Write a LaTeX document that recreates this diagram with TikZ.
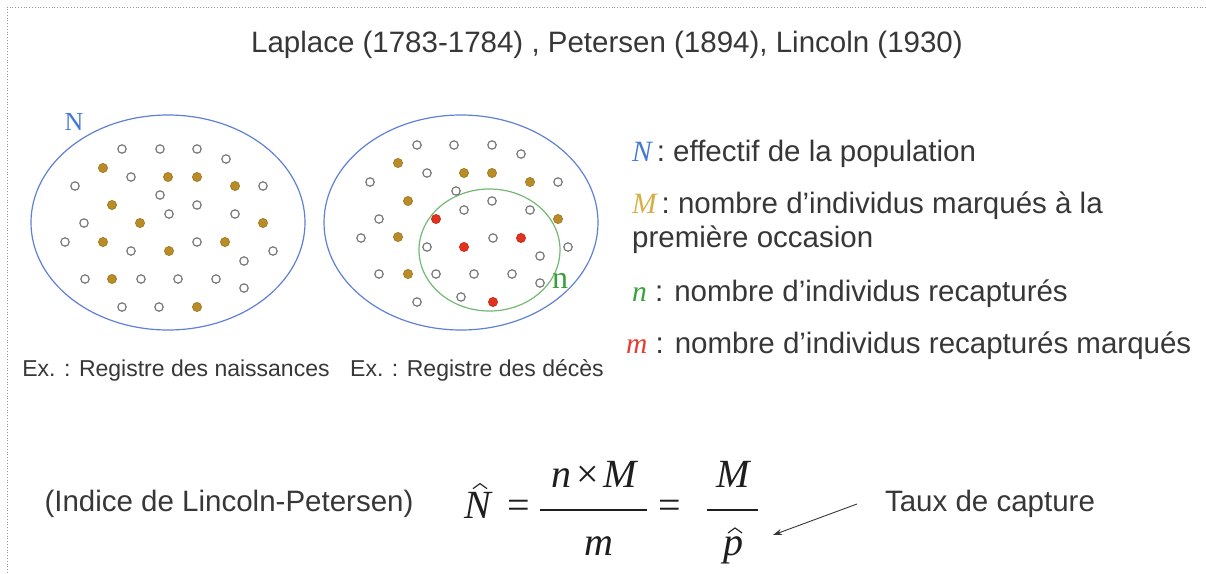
\documentclass[tikz,border=0pt]{standalone}
\usepackage{fontspec}
\setmainfont{Liberation Sans}
\newfontfamily\lserif{Liberation Serif}
\usetikzlibrary{arrows.meta,calc}
\definecolor{textgray}{RGB}{55,55,55}
\definecolor{popblue}{RGB}{95,128,215}
\definecolor{labblue}{RGB}{70,120,215}
\definecolor{recgreen}{RGB}{115,185,115}
\definecolor{labgreen}{RGB}{55,160,60}
\definecolor{goldfill}{RGB}{185,140,40}
\definecolor{redfill}{RGB}{225,50,30}
\definecolor{opengray}{RGB}{120,120,120}
\definecolor{leggold}{RGB}{215,175,70}
\definecolor{legred}{RGB}{230,60,50}
\definecolor{framegray}{RGB}{150,150,150}
\definecolor{mathblack}{RGB}{30,30,30}
\begin{document}
\begin{tikzpicture}[x=1pt,y=-1pt,
  txt/.style={font=\fontsize{29.5}{34}\selectfont, text=textgray, inner sep=0pt},
  smalltxt/.style={font=\fontsize{23}{27}\selectfont, text=textgray, inner sep=0pt},
  mth/.style={font=\lserif\fontsize{40}{44}\selectfont, text=mathblack, inner sep=0pt},
  popline/.style={draw=popblue, line width=1.2pt},
  recline/.style={draw=recgreen, line width=1.2pt},
  opendot/.style={draw=opengray, line width=1.2pt, fill=white},
  golddot/.style={draw=goldfill!85!black, line width=0.6pt, fill=goldfill},
  reddot/.style={draw=redfill!85!black, line width=0.6pt, fill=redfill},
  fracbar/.style={draw=mathblack, line width=1.3pt},
  hatline/.style={draw=mathblack, line width=1.1pt},
  framestyle/.style={draw=framegray, line width=0.8pt, dotted},
  pointer/.style={draw=textgray, line width=0.9pt, -{Stealth[length=9pt,width=6pt]}}
]
\useasboundingbox (0,0) rectangle (1206,573);
\draw[framestyle] (1206,7) -- (7,7) -- (7,573);

% title
\node[txt, anchor=base] (title) at (607,52) {Laplace (1783-1784) , Petersen (1894), Lincoln (1930)};

% population ellipses
\draw[popline] (168,222.5) ellipse [x radius=137pt, y radius=107.5pt];
\draw[popline] (461,222.5) ellipse [x radius=137pt, y radius=107.5pt];
\draw[recline] (489.5,250) ellipse [x radius=70.5pt, y radius=61pt];

\node[font=\lserif\fontsize{26}{28}\selectfont, text=labblue, inner sep=0pt] (Nlab) at (74,122) {N};
\node[font=\lserif\fontsize{32}{34}\selectfont, text=labgreen, inner sep=0pt] (nlab) at (560,281) {n};

% dots, first ellipse
\foreach \p in {(122,149),(160,149),(197,149),(226,159),(131,177),(75,186),(263,186),(160,195),(197,205),(169,214),(235,214),(84,223),(65,242),(131,251),(197,242),(273,251),(244,261),(85,279),(141,279),(178,279),(216,279),(244,288),(122,307),(159,307)}
  \draw[opendot] \p circle (4.2pt);
\foreach \p in {(103,168),(168,177),(197,177),(235,186),(112,205),(140,223),(263,223),(103,242),(169,251),(225,242),(112,279),(197,307)}
  \draw[golddot] \p circle (4.6pt);

% dots, second ellipse
\foreach \p in {(417,145),(454,145),(492,145),(521,154),(427,173),(370,182),(558,182),(456,191),(492,201),(464,210),(530,210),(379,219),(361,238),(427,247),(493,238),(568,247),(540,256),(379,274),(436,274),(474,274),(512,274),(540,283),(417,302),(461,297)}
  \draw[opendot] \p circle (4.2pt);
\foreach \p in {(398,163),(464,173),(492,173),(530,182),(408,201),(558,219),(398,237),(408,274)}
  \draw[golddot] \p circle (4.6pt);
\foreach \p in {(436,219),(464,247),(521,238),(493,302)}
  \draw[reddot] \p circle (4.6pt);

% captions
\node[smalltxt, anchor=base] (ex1) at (176,376) {Ex. : Registre des naissances};
\node[smalltxt, anchor=base] (ex2) at (477,376) {Ex. : Registre des décès};

% legend
\node[txt, anchor=base west] (legN) at (632,161) {{\lserif\itshape\color{labblue}N}\,: effectif de la population};
\node[txt, anchor=base west] (legM) at (632,213) {{\lserif\itshape\color{leggold}M}\,: nombre d’individus marqués à la};
\node[txt, anchor=base west] (legM2) at (632,247) {première occasion};
\node[txt, anchor=base west] (legn) at (632,301) {{\lserif\itshape\color{labgreen}n} : nombre d’individus recapturés};
\node[txt, anchor=base west] (legm) at (626,353) {{\lserif\itshape\color{legred}m} : nombre d’individus recapturés marqués};

% formula
\node[txt, anchor=base] (indice) at (229,511) {(Indice de Lincoln-Petersen)};
\node[mth, anchor=base] (Nh) at (478,518) {\itshape N};
\draw[hatline] ($(Nh.north)+(-5,-3)$) -- ($(Nh.north)+(2,-8)$) -- ($(Nh.north)+(9,-3)$);
\node[mth, anchor=base] (eq1) at (519,518) {=};
\draw[fracbar] (540,510) -- (647,510);
\node[mth, anchor=base] (num1) at (594,487) {{\itshape n}\hspace{5pt}×\hspace{5pt}{\itshape M}};
\node[mth, anchor=base] (den1) at (599,555) {\itshape m};
\node[mth, anchor=base] (eq2) at (670,518) {=};
\draw[fracbar] (707,510) -- (758,510);
\node[mth, anchor=base] (num2) at (733,487) {\itshape M};
\node[mth, anchor=base] (den2) at (733,555) {\itshape p};
\draw[hatline] ($(den2.north)+(-5,-3)$) -- ($(den2.north)+(2,-8)$) -- ($(den2.north)+(9,-3)$);
\node[txt, anchor=base] (taux) at (990,511) {Taux de capture};
\coordinate (arrS) at (857,504);
\coordinate (arrE) at (773,535);
\draw[pointer] (arrS) -- (arrE);
\end{tikzpicture}
\end{document}
